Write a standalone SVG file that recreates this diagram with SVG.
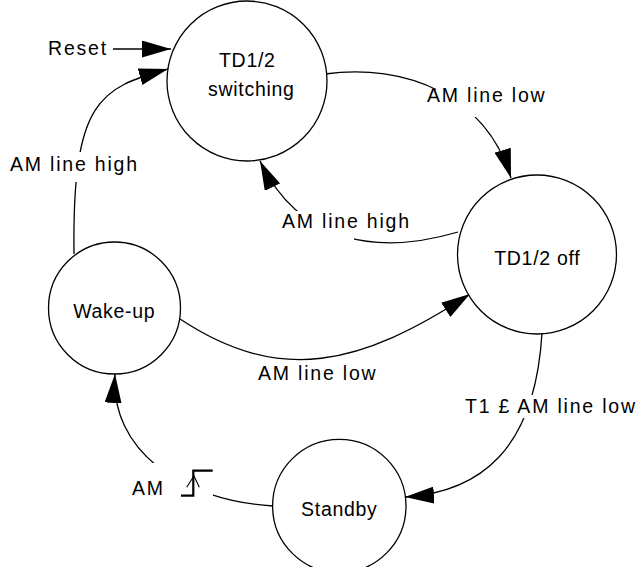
<svg xmlns="http://www.w3.org/2000/svg" width="639" height="567" viewBox="0 0 639 567">
<style>
  .node { fill: #ffffff; stroke: #000000; stroke-width: 1.3; }
  .conn { fill: none; stroke: #000000; stroke-width: 1.3; }
  .bg { fill: #ffffff; stroke: none; }
  .lbl { font-family: "Liberation Sans", Arial, Helvetica, sans-serif; font-size: 19.5px; fill: #000000; letter-spacing: 1.8px; }
  .ntx { font-family: "Liberation Sans", Arial, Helvetica, sans-serif; font-size: 19.5px; fill: #000000; letter-spacing: 0.7px; text-anchor: middle; }
  .step { fill: none; stroke: #000000; stroke-width: 2.2; }
  .stepArrow { fill: none; stroke: #000000; stroke-width: 1.1; }
</style>
<defs>
  <marker id="arrow" markerUnits="userSpaceOnUse" viewBox="0 0 29 17" refX="29" refY="8.5" markerWidth="29" markerHeight="17" orient="auto">
    <path d="M0,0 L29,8.5 L0,17 Z" fill="#000000"/>
  </marker>
</defs>
<rect x="0" y="0" width="639" height="567" fill="#ffffff"/>

<g id="connectors">
  <path id="c-reset" class="conn" d="M113,49 L171,49" marker-end="url(#arrow)"/>
  <path id="c-switching-off" class="conn" d="M325,74 C405,63 486,95 511,178" marker-end="url(#arrow)"/>
  <path id="c-off-switching" class="conn" d="M458,232 C380,255 300,245 260,161" marker-end="url(#arrow)"/>
  <path id="c-wakeup-off" class="conn" d="M180,319 C280,385 360,366 470,294" marker-end="url(#arrow)"/>
  <path id="c-wakeup-switching" class="conn" d="M74,254 C72,100 100,88 168,69" marker-end="url(#arrow)"/>
  <path id="c-off-standby" class="conn" d="M542,333 C535,450 480,492 405,497" marker-end="url(#arrow)"/>
  <path id="c-standby-wakeup" class="conn" d="M273,506 C180,500 110,450 115,374" marker-end="url(#arrow)"/>

  <rect class="bg" x="436" y="84" width="40" height="33"/>
  <rect class="bg" x="296" y="211" width="58" height="36"/>
  <rect class="bg" x="8" y="152" width="132" height="30"/>
  <rect class="bg" x="463" y="395" width="176" height="23"/>
  <rect class="bg" x="128" y="463" width="85" height="37"/>

  <text class="lbl" x="48" y="55">Reset</text>
  <text class="lbl" x="427" y="102">AM line low</text>
  <text class="lbl" x="282" y="228">AM line high</text>
  <text class="lbl" x="10" y="171">AM line high</text>
  <text class="lbl" x="258" y="380">AM line low</text>
  <text class="lbl" x="465" y="413">T1 £ AM line low</text>
  <text class="lbl" x="132" y="495">AM</text>
  <polyline class="step" points="181,495.7 193.3,495.7 193.3,470.7 212.7,470.7"/>
  <polyline class="stepArrow" points="186.7,487.3 194,476 199.3,487.3"/>
</g>

<g id="node-switching">
  <circle class="node" cx="247" cy="81" r="80"/>
  <text class="ntx" x="247.3" y="67">TD1/2</text>
  <text class="ntx" x="251.3" y="96">switching</text>
</g>

<g id="node-off">
  <circle class="node" cx="537" cy="254.5" r="79.5"/>
  <text class="ntx" x="537.3" y="265">TD1/2 off</text>
</g>

<g id="node-wakeup">
  <circle class="node" cx="114.5" cy="308" r="66"/>
  <text class="ntx" x="114.3" y="318">Wake-up</text>
</g>

<g id="node-standby">
  <circle class="node" cx="339.3" cy="506" r="66.7"/>
  <text class="ntx" x="339.3" y="516">Standby</text>
</g>
</svg>
